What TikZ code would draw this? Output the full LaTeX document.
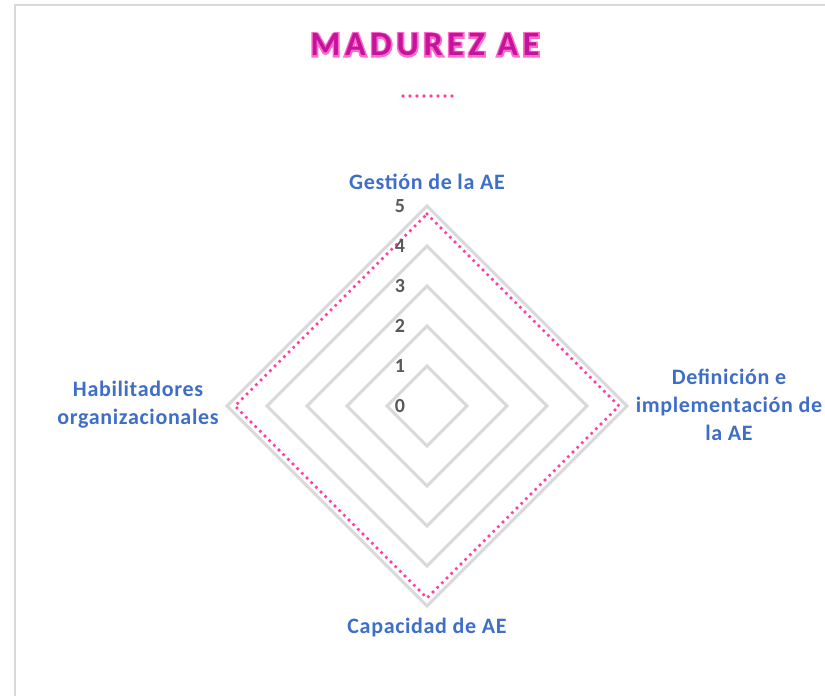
\documentclass[tikz,border=0pt]{standalone}
\usepackage{fontspec}
\setmainfont{Carlito}
\newfontfamily\titlefont[LetterSpace=14]{Carlito}
\newfontfamily\labelfont[LetterSpace=3]{Carlito}
\usetikzlibrary{positioning}
\definecolor{axisblue}{RGB}{62,110,200}
\definecolor{tickgray}{RGB}{89,89,89}
\definecolor{gridgray}{RGB}{217,217,217}
\definecolor{seriespink}{RGB}{255,64,160}
\definecolor{titlemagenta}{RGB}{196,20,156}
\newcommand{\glowon}{\special{pdf:code q 1 Tr 3.2 w 1 0.42 0.8 RG}}
\newcommand{\glowoff}{\special{pdf:code Q}}
\newcommand{\glowtext}[1]{\glowon\rlap{#1}\glowoff#1}
\tikzset{
  axislabel/.style={text=axisblue,font=\labelfont\fontsize{22}{28}\selectfont\bfseries,align=center,inner sep=0pt},
  ticklabel/.style={text=tickgray,font=\fontsize{20}{20}\selectfont\bfseries,inner sep=0pt},
  gridline/.style={draw=gridgray,line width=3pt,line join=miter},
  series/.style={draw=seriespink,line width=3.6pt,line cap=round,dash pattern=on 0pt off 6.6pt},
  frameline/.style={draw=gridgray,line width=2.5pt}
}
\begin{document}
\begin{tikzpicture}[x=1pt,y=-1pt]
% \draw[help lines] (0,0) grid (825,696);
\useasboundingbox (0,0) rectangle (825,696);
\draw[frameline] (15,696) -- (15,5) -- (825,5);
%
\node (title) [text=titlemagenta,font=\titlefont\fontsize{34}{34}\selectfont\bfseries,inner sep=0pt] at (425,45) {\glowtext{MADUREZ AE}};
\coordinate (leg-a) at (403,96);
\coordinate (leg-b) at (452.5,96);
\path[series,dash pattern=on 0pt off 7pt] (leg-a) -- (leg-b);
%
\coordinate (c) at (427,406);
\foreach \r in {1,...,5}
  \draw[gridline,shift={(c)}] (0,-40*\r) -- (40*\r,0) -- (0,40*\r) -- (-40*\r,0) -- cycle;
\draw[series,shift={(c)}] (0,-192) -- (192,0) -- (0,192) -- (-192,0) -- cycle;
%
\foreach \k in {0,...,5}
  \node (tick\k) [ticklabel] at (400,406-40*\k) {\k};
%
\node (gestion) [axislabel] at (427,182) {Gestión de la AE};
\node (definicion) [axislabel] at (729,405) {Definición e\\implementación de\\la AE};
\node (capacidad) [axislabel] at (427,628) {Capacidad de AE};
\node (habilitadores) [axislabel] at (138,405) {Habilitadores\\organizacionales};
\end{tikzpicture}
\end{document}
